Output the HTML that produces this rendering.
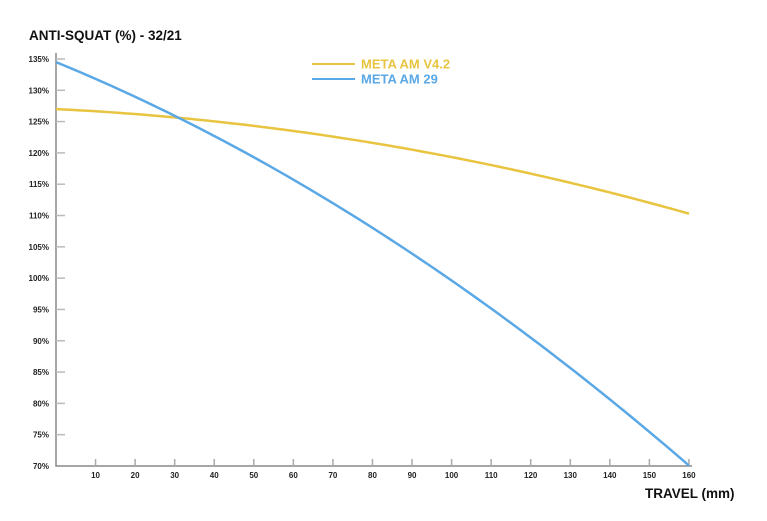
<!DOCTYPE html>
<html><head><meta charset="utf-8"><style>
html,body{margin:0;padding:0;background:#fff;}
svg{display:block;font-family:"Liberation Sans",sans-serif;}
</style></head><body>
<svg id="s" width="767" height="521" viewBox="0 0 767 521" xmlns="http://www.w3.org/2000/svg">
<text x="29" y="40" font-size="13.5" font-weight="bold" fill="#111">ANTI-SQUAT (%) - 32/21</text>
<text x="645" y="498" font-size="13.5" font-weight="bold" fill="#111">TRAVEL (mm)</text>
<line x1="312" y1="64" x2="355" y2="64" stroke="#e8c440" stroke-width="2"/>
<text x="361" y="68.5" font-size="13" font-weight="bold" fill="#e8c440">META AM V4.2</text>
<line x1="312" y1="79" x2="355" y2="79" stroke="#5aa8e6" stroke-width="2"/>
<text x="361" y="83.5" font-size="13" font-weight="bold" fill="#5aa8e6">META AM 29</text>
<g id="ax" stroke="#888" stroke-width="1.5" fill="none">
<polyline points="56,53 56,466 692,466"/>
</g>
<g id="lab" font-size="8" font-weight="bold" fill="#222"></g>
<polyline id="y" fill="none" stroke="#e8c440" stroke-width="2.5"/>
<polyline id="b" fill="none" stroke="#5aa8e6" stroke-width="2.5"/>
</svg>
<script>
var ns="http://www.w3.org/2000/svg";
function X(t){return 56+3.956*t}
function Y(p){return 466-(p-70)*6.262}
var ax=document.getElementById('ax'),lab=document.getElementById('lab');
function el(n,a,par,txt){var e=document.createElementNS(ns,n);for(var k in a)e.setAttribute(k,a[k]);if(txt)e.textContent=txt;par.appendChild(e);}
for(var p=75;p<=135;p+=5){var y=Y(p);el('line',{x1:56,y1:y,x2:65,y2:y,stroke:'#bbb'},ax);}
for(var p=70;p<=135;p+=5){el('text',{x:49,y:Y(p)+3,'text-anchor':'end'},lab,p+'%');}
for(var t=10;t<=160;t+=10){var x=X(t);el('line',{x1:x,y1:459,x2:x,y2:466,stroke:'#aaa'},ax);el('text',{x:x,y:478,'text-anchor':'middle'},lab,String(t));}
var ys=[],bs=[];
for(var t=0;t<=160;t+=2){ys.push(X(t)+','+Y(127-0.0306*t-0.000461*t*t));bs.push(X(t)+','+Y(134.5-0.259*t-0.000898*t*t));}
document.getElementById('y').setAttribute('points',ys.join(' '));
document.getElementById('b').setAttribute('points',bs.join(' '));
</script>
</body></html>
